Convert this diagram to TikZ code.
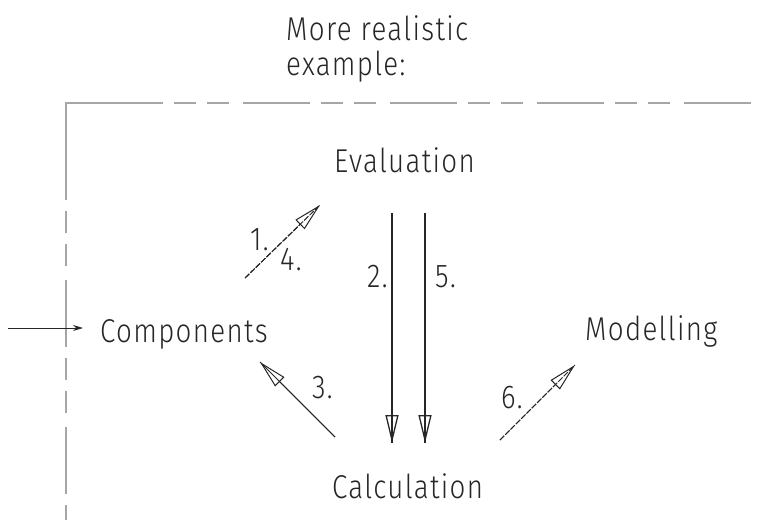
\documentclass[tikz,border=0pt]{standalone}
\usepackage{fontspec}
\setmainfont{Fira Sans Light}[FakeStretch=0.84, LetterSpace=4]
\usetikzlibrary{arrows.meta}

\begin{document}
\begin{tikzpicture}[
  x=1pt,
  y=-1pt,
  txt/.style={
      anchor=base west,
      inner sep=0pt,
      font=\fontsize{33}{33}\selectfont,
      text=black!85
  },
  frame/.style={
      draw=black!35,
      line width=1.3pt
  },
  flow/.style={
      draw=black!85,
      line width=1pt,
      postaction={draw, -{Triangle[open, length=28pt, width=13pt]}}
  },
  feed/.style={
      draw=black!85,
      line width=1pt,
      -{Stealth[length=10pt, width=6pt]}
  }
]

\useasboundingbox (0,0) rectangle (760,520);

% ==================================================
% Title
% ==================================================

\node[
    txt,
    anchor=north west,
    align=left,
    font=\fontsize{33}{35}\selectfont
] (title) at (286,15)
{
More realistic\\
example:
};

% ==================================================
% Frame
% ==================================================

\draw[frame]
(96,103) -- (66,103) -- (66,133);

\draw[frame, dash pattern=on 67pt off 11pt on 22pt off 11pt on 22pt off 14pt]
(66,133) -- (66,520);

\draw[frame, dash pattern=on 67pt off 11pt on 22pt off 11pt on 22pt off 14pt]
(96,103) -- (760,103);

% ==================================================
% Stages
% ==================================================

\node[txt] (eval) at (334,172) {Evaluation};

\node[txt] (comp) at (100,342) {Components};

\node[txt] (model) at (585,340) {Modelling};

\node[txt] (calc) at (332,498) {Calculation};

% ==================================================
% Step numbers
% ==================================================

\node[txt] (n1) at (250,250) {1.};
\node[txt] (n4) at (280,270) {4.};
\node[txt] (n2) at (367,287) {2.};
\node[txt] (n5) at (435,287) {5.};
\node[txt] (n3) at (312,398) {3.};
\node[txt] (n6) at (501,408) {6.};

% ==================================================
% Connections
% ==================================================

\coordinate (in) at (8,328);

\coordinate (a1) at (245,278);
\coordinate (b1) at (320,205);

\coordinate (a2) at (392,213);
\coordinate (b2) at (392,443);

\coordinate (a5) at (425,213);
\coordinate (b5) at (425,443);

\coordinate (a3) at (335,437);
\coordinate (b3) at (260,362);

\coordinate (a6) at (500,440);
\coordinate (b6) at (575,365);

\draw[feed, shorten >=17pt]
(in) -- (in -| comp.west);

\draw[flow, dash pattern=on 6pt off 1.5pt]
(a1) -- (b1);

\draw[flow, line width=1.3pt]
(a2) -- (b2);

\draw[flow, line width=1.3pt]
(a5) -- (b5);

\draw[flow]
(a3) -- (b3);

\draw[flow, dash pattern=on 6pt off 1.5pt]
(a6) -- (b6);

\end{tikzpicture}
\end{document}
